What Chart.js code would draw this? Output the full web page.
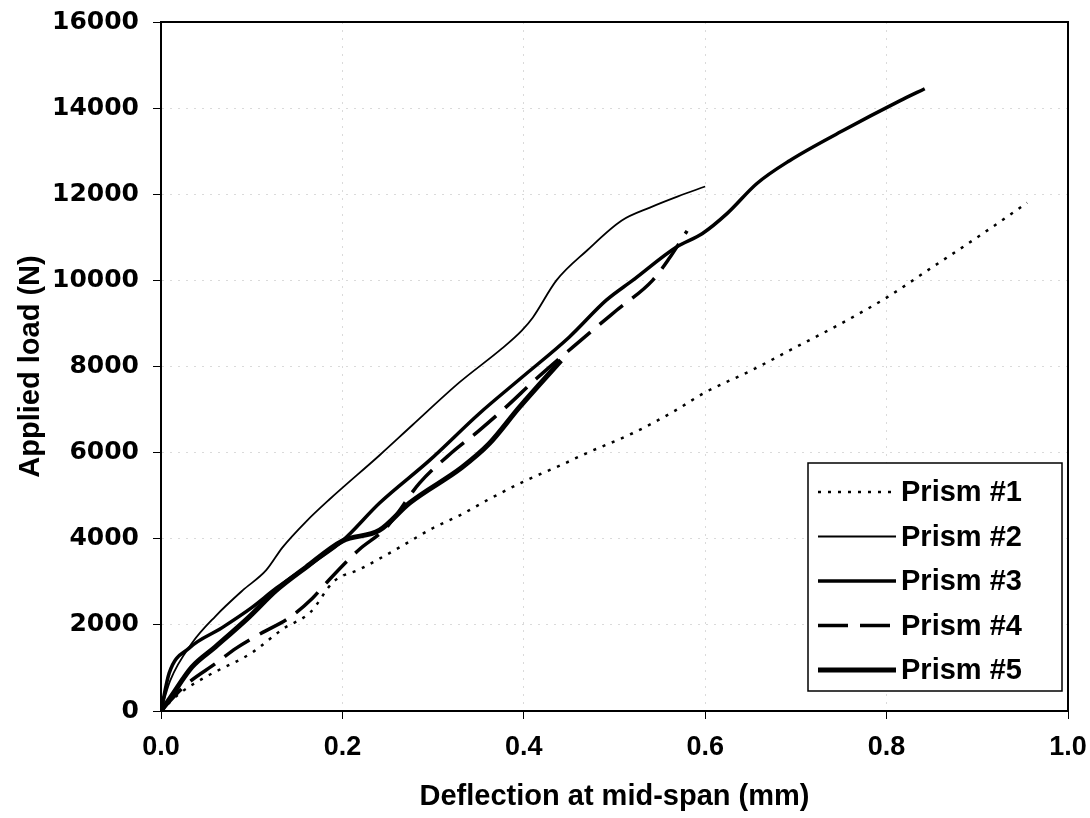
<!DOCTYPE html>
<html>
<head>
<meta charset="utf-8">
<script src="https://cdn.jsdelivr.net/npm/chart.js@4"></script>
<style>
  body { margin: 0; background: #fff; }
  #wrap { width: 1090px; height: 818px; position: relative; }
</style>
</head>
<body>
<div id="wrap"><canvas id="chart"></canvas></div>
<script>
// Deflection (mm) / load (N) for each prism
const prism1X = [0, 0.02, 0.05, 0.1, 0.134, 0.165, 0.19, 0.22, 0.263, 0.3, 0.33, 0.36, 0.403, 0.44, 0.469, 0.52, 0.564, 0.6, 0.65, 0.7, 0.75, 0.8, 0.85, 0.9, 0.955];
const prism1Y = [0, 400, 800, 1350, 1900, 2300, 3000, 3300, 3800, 4250, 4550, 4900, 5360, 5700, 5985, 6450, 6940, 7400, 7900, 8450, 9000, 9600, 10300, 11000, 11800];

const prism2X = [0, 0.01, 0.035, 0.06, 0.09, 0.116, 0.134, 0.16, 0.185, 0.241, 0.277, 0.329, 0.376, 0.398, 0.41, 0.436, 0.47, 0.508, 0.539, 0.57, 0.6];
const prism2Y = [0, 700, 1600, 2200, 2800, 3270, 3800, 4400, 4900, 5940, 6635, 7630, 8420, 8840, 9140, 10000, 10700, 11390, 11690, 11950, 12180];

const prism3X = [0, 0.009, 0.031, 0.067, 0.1, 0.127, 0.171, 0.2, 0.241, 0.296, 0.351, 0.398, 0.45, 0.491, 0.52, 0.568, 0.597, 0.624, 0.657, 0.693, 0.752, 0.815, 0.842];
const prism3Y = [0, 880, 1460, 1930, 2400, 2850, 3500, 3950, 4830, 5820, 6910, 7750, 8680, 9540, 10000, 10770, 11090, 11550, 12250, 12780, 13480, 14175, 14450];

const prism4X = [0, 0.015, 0.031, 0.06, 0.083, 0.11, 0.141, 0.167, 0.182, 0.218, 0.248, 0.285, 0.32, 0.35, 0.38, 0.414, 0.454, 0.502, 0.542, 0.56, 0.58];
const prism4Y = [0, 350, 670, 1100, 1460, 1800, 2160, 2620, 2970, 3740, 4250, 5290, 5990, 6500, 7050, 7720, 8450, 9300, 10000, 10500, 11150];

const prism5X = [0, 0.01, 0.034, 0.06, 0.097, 0.127, 0.16, 0.2, 0.241, 0.274, 0.332, 0.362, 0.395, 0.441];
const prism5Y = [0, 300, 1020, 1490, 2180, 2800, 3340, 3950, 4200, 4830, 5660, 6210, 7050, 8140];

const seriesNames = ["Prism #1", "Prism #2", "Prism #3", "Prism #4", "Prism #5"];

function pts(xs, ys) {
    return xs.map((x, i) => ({ x: x, y: ys[i] }));
}

function ds(name, xs, ys, width, dash) {
    return {
        label: name,
        data: pts(xs, ys),
        borderColor: "#000",
        backgroundColor: "#000",
        borderWidth: width,
        borderDash: dash,
        pointRadius: 0,
        cubicInterpolationMode: "monotone",
        fill: false
    };
}

// legend box in the lower right corner of the plot
const boxLegend = {
    id: "boxLegend",
    afterDraw(chart) {
        const ctx = chart.ctx;
        const area = chart.chartArea;
        const w = 254, h = 228;
        const x0 = area.right - 6 - w;
        const y0 = area.bottom - 20 - h;
        ctx.save();
        ctx.fillStyle = "#fff";
        ctx.fillRect(x0, y0, w, h);
        ctx.strokeStyle = "#000";
        ctx.lineWidth = 1.5;
        ctx.strokeRect(x0, y0, w, h);
        ctx.font = "bold 29px 'Liberation Sans', Arial, sans-serif";
        ctx.textBaseline = "middle";
        ctx.fillStyle = "#000";
        chart.data.datasets.forEach((d, i) => {
            const cy = y0 + 29 + i * 44.5;
            ctx.beginPath();
            ctx.lineWidth = d.borderWidth;
            ctx.setLineDash(d.borderDash || []);
            ctx.moveTo(x0 + 10, cy);
            ctx.lineTo(x0 + 88, cy);
            ctx.stroke();
            ctx.setLineDash([]);
            ctx.fillText(d.label, x0 + 93, cy + 1);
        });
        ctx.restore();
    }
};

// black frame round the plot area
const frame = {
    id: "frame",
    beforeDatasetsDraw(chart) {
        const a = chart.chartArea;
        const ctx = chart.ctx;
        ctx.save();
        ctx.strokeStyle = "#000";
        ctx.lineWidth = 2;
        ctx.strokeRect(a.left, a.top, a.right - a.left, a.bottom - a.top);
        ctx.restore();
    }
};

const xTickFont = { family: "'Liberation Sans', Arial, sans-serif", size: 27, weight: "bold" };
const yTickFont = { family: "'DejaVu Sans', sans-serif", size: 25, weight: "bold" };
const titleFont = { family: "'Liberation Sans', Arial, sans-serif", size: 29, weight: "bold" };

new Chart(document.getElementById("chart"), {
    type: "line",
    data: {
        datasets: [
            ds(seriesNames[0], prism1X, prism1Y, 2.5, [3, 7]),
            ds(seriesNames[1], prism2X, prism2Y, 1.8, []),
            ds(seriesNames[2], prism3X, prism3Y, 3.5, []),
            ds(seriesNames[3], prism4X, prism4Y, 3.5, [30, 12]),
            ds(seriesNames[4], prism5X, prism5Y, 5, [])
        ]
    },
    options: {
        responsive: true,
        maintainAspectRatio: false,
        animation: false,
        layout: { padding: { left: 0, right: 22, top: 22, bottom: 0 } },
        plugins: {
            legend: { display: false },
            tooltip: { enabled: false }
        },
        scales: {
            x: {
                type: "linear",
                min: 0,
                max: 1,
                ticks: {
                    stepSize: 0.2,
                    color: "#000",
                    font: xTickFont,
                    padding: 12,
                    maxRotation: 0,
                    callback: v => v.toFixed(1)
                },
                grid: { color: "#dadada", tickColor: "#000", tickLength: 8, lineWidth: 1 },
                border: { display: true, color: "#000", width: 2, dash: [2, 6] },
                title: { display: true, text: "Deflection at mid-span (mm)", color: "#000", font: titleFont, padding: { top: 2, bottom: 4 } },
                afterFit: s => { s.height = 107; s.paddingLeft = 0; s.paddingRight = 0; }
            },
            y: {
                min: 0,
                max: 16000,
                ticks: {
                    stepSize: 2000,
                    color: "#000",
                    font: yTickFont,
                    padding: 14,
                    callback: v => String(v)
                },
                grid: { color: "#dadada", tickColor: "#000", tickLength: 8, lineWidth: 1 },
                border: { display: true, color: "#000", width: 2, dash: [2, 6] },
                title: { display: true, text: "Applied load (N)", color: "#000", font: titleFont, padding: { top: 14, bottom: 4 } },
                afterFit: s => { s.width = 161; s.paddingTop = 0; s.paddingBottom = 0; }
            }
        }
    },
    plugins: [frame, boxLegend]
});
</script>
</body>
</html>
